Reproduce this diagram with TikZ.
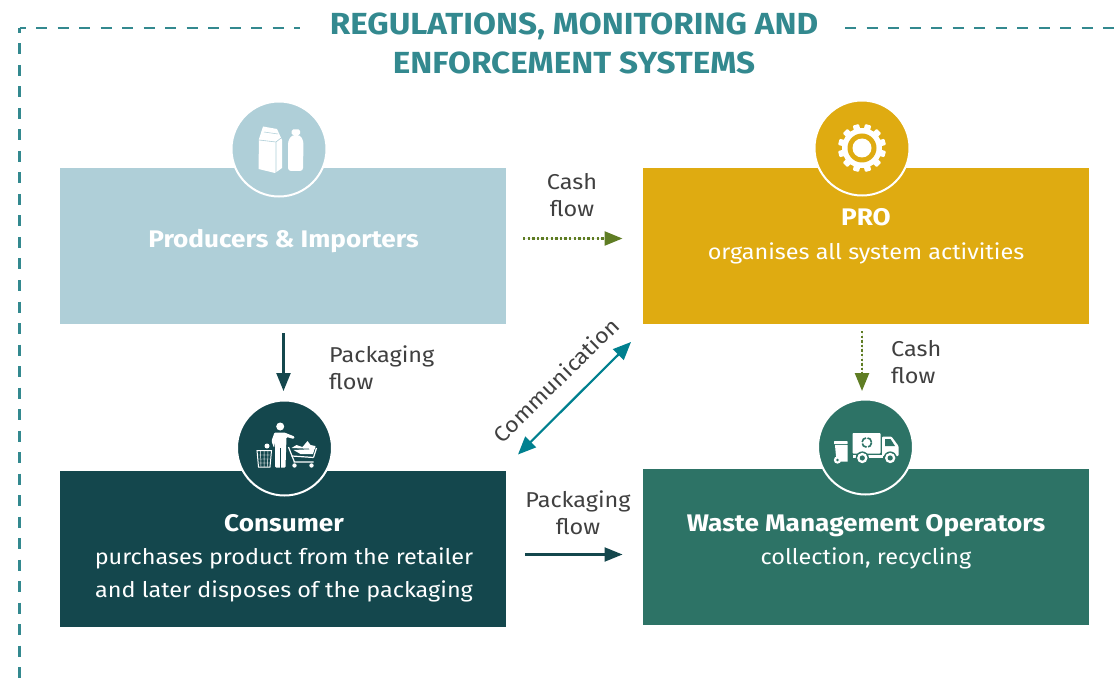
\documentclass[tikz,border=0pt]{standalone}
\usepackage{fontspec}
\setmainfont{Fira Sans}[FakeStretch=1.09]
\usetikzlibrary{arrows.meta}
\definecolor{framegreen}{HTML}{33898F}
\definecolor{prodblue}{HTML}{AFCFD8}
\definecolor{progold}{HTML}{DFAB11}
\definecolor{consdark}{HTML}{14474D}
\definecolor{wastegreen}{HTML}{2D7366}
\definecolor{cashgreen}{HTML}{5F7D24}
\definecolor{commteal}{HTML}{00808F}
\definecolor{labelgrey}{HTML}{404040}
\newcommand{\boxhead}[1]{{\fontsize{24}{33}\selectfont\bfseries #1}}
\tikzset{
  frameline/.style={framegreen,line width=2.7pt,dash pattern=on 11pt off 10.5pt},
  actorbox/.style={minimum width=446pt,minimum height=156pt,inner sep=0pt},
  boxtext/.style={inner sep=0pt,text=white,align=center,font=\fontsize{21.5}{33}\selectfont},
  iconback/.style={circle,minimum size=95pt,inner sep=0pt,draw=white,line width=2pt},
  flowlabel/.style={text=labelgrey,align=center,font=\fontsize{21.5}{27}\selectfont},
  flowtip/.style={-{Triangle[length=18pt,width=14pt]}},
  cashflow/.style={flowtip,draw=cashgreen,fill=cashgreen,line width=2.4pt,dash pattern=on 2.4pt off 2.2pt},
  packflow/.style={flowtip,draw=consdark,fill=consdark,line width=2.2pt}
}
\begin{document}
\begin{tikzpicture}[x=1pt,y=-1pt]
\useasboundingbox (0,0) rectangle (1114,679);

% frame
\coordinate (corner) at (19.5,28);
\draw[frameline,dash phase=5pt] (corner) -- (300,28);
\draw[frameline,dash phase=6pt] (corner) -- (19.5,679);
\draw[frameline] (845,28) -- (1114,28);
\node[text=framegreen,align=center,font=\fontsize{30.5}{39}\selectfont\bfseries] (title) at (574,43)
  {REGULATIONS, MONITORING AND\\ENFORCEMENT SYSTEMS};

% boxes
\node[actorbox,fill=prodblue] (producers) at (283,246) {};
\node[actorbox,fill=progold] (pro) at (866,246) {};
\node[actorbox,fill=consdark] (consumer) at (283,549) {};
\node[actorbox,fill=wastegreen] (waste) at (866,547) {};
\node[boxtext] (producerstext) at (283.5,241) {\boxhead{Producers \& Importers}};
\node[boxtext,font=\fontsize{21.5}{34}\selectfont] (protext) at (866,236.5) {\boxhead{PRO}\\organises all system activities};
\node[boxtext] (consumertext) at (284,558) {\boxhead{Consumer}\\purchases product from the retailer\\and later disposes of the packaging};
\node[boxtext] (wastetext) at (866,541.5) {\boxhead{Waste Management Operators}\\collection, recycling};

% icon circles
\node[iconback,fill=prodblue] (prodicon) at (279,149) {};
\node[iconback,fill=progold] (proicon) at (862,148) {};
\node[iconback,fill=consdark] (consicon) at (284.5,448) {};
\node[iconback,fill=wastegreen] (wasteicon) at (865.5,447) {};

% bottle and carton
\begin{scope}[shift={(prodicon.center)},white]
\fill (-20,-10) -- (-16,-22.5) -- (-2,-20) -- (3,-9) -- (3,19) -- (-4,24) -- (-20.5,20) -- cycle;
\fill[rounded corners=1.5pt] (12.5,-19.5) rectangle (21,-14);
\fill[rounded corners=3pt] (9,-8) -- (13,-14) -- (21,-14) -- (24.5,-8) -- (24,22) -- (9,22) -- cycle;
\draw[prodblue,line width=.6pt] (-20,-9) -- (-3,-7) -- (2,-11) (-3,-7) -- (-3,24);
\draw[prodblue,line width=.5pt] (-15,-17) -- (-1,-15);
\end{scope}

% gear
\begin{scope}[shift={(proicon.center)}]
\foreach \a in {15,45,...,345}
  \fill[white,rotate=\a,rounded corners=1pt] (-3.2,-24) rectangle (3.2,-17);
\fill[white] (0,0) circle (20);
\fill[progold] (0,0) circle (14.5);
\fill[white] (0,0) circle (9.5);
\end{scope}

% person with bin and trolley
\begin{scope}[shift={(consicon.center)},white]
\fill (-4.3,-21.5) circle (4);
\fill[rounded corners=1pt] (-13,-7) -- (-10,-15.5) -- (0,-15.5) -- (10,-11.5) -- (9.5,-9) -- (2,-11) -- (1,19.5) -- (-9.5,19.5) -- (-9.5,-6) -- (-10.5,0) -- cycle;
\draw[consdark,line width=.7pt] (-4.3,0) -- (-4.3,19.5);
\draw[line width=1pt] (-27.5,2.5) -- (-13,2.5) -- (-14.5,19) -- (-26,19) -- cycle;
\draw[line width=.45pt] (-24,2.5) -- (-23.5,19) (-20.3,2.5) -- (-20.3,19) (-16.5,2.5) -- (-17,19) (-27,7) -- (-14,7) (-26.5,11) -- (-14.5,11) (-26,15) -- (-14.5,15);
\fill (-17.5,-2) circle (2.5);
\draw[line width=1.2pt] (4,-1) -- (7.5,8) -- (29,9.5) (9,14) -- (29,14);
\draw[line width=1.2pt] (7.5,8) -- (10,14) (32,0) -- (29,9.5);
\fill (7,0) -- (12,-3) -- (18,-1) -- (23,-7) -- (26,-3) -- (31,-2) -- (30.5,1) -- cycle;
\fill (9,2) -- (30,1) -- (28.5,6) -- (16,6) -- cycle;
\fill (10,17.5) circle (2.2) (27,17.5) circle (2.2);
\end{scope}

% truck and bin
\begin{scope}[shift={(wasteicon.center)},white]
\fill[rounded corners=.6pt] (-31.5,-6) rectangle (-18,-2.8);
\fill (-30.5,-1.8) -- (-18,-1.8) -- (-18,14.5) -- (-29,14.5) -- cycle;
\fill (-28,13) circle (3.7);
\fill[wastegreen] (-28,13) circle (1.4);
\fill[rounded corners=.8pt] (-13,-14) rectangle (15,6.5);
\fill[rounded corners=1pt] (16.5,-10.5) -- (26,-10.5) -- (33,-1) -- (33,9) -- (16.5,9) -- cycle;
\fill[wastegreen] (19.5,-8) -- (25,-8) -- (29.5,-1) -- (19.5,-1) -- cycle;
\fill (-13,7.5) rectangle (17,11);
\draw[wastegreen,line width=1.6pt,dash pattern=on 6pt off 1.6pt] (1.3,-4.5) circle (4.8);
\foreach \cx in {-3.2,24.7}
{
  \fill[wastegreen] (\cx,11) circle (6.6);
  \fill (\cx,11) circle (5.2);
  \fill[wastegreen] (\cx,11) circle (2.6);
}
\end{scope}

% flows
\coordinate (cashastart) at (523,238.5);
\coordinate (cashaend) at (622.5,238.5);
\draw[cashflow] (cashastart) -- (cashaend);
\node[flowlabel] (cashalabel) at (572,195) {Cash\\flow};

\coordinate (cashbstart) at (862,331);
\coordinate (cashbend) at (862,391);
\draw[cashflow] (cashbstart) -- (cashbend);
\node[flowlabel,align=left,anchor=west,inner sep=0pt] (cashblabel) at (891,362) {Cash\\flow};

\coordinate (packastart) at (283.5,333);
\coordinate (packaend) at (283.5,391);
\draw[packflow] (packastart) -- (packaend);
\node[flowlabel,align=left,anchor=west,inner sep=0pt] (packalabel) at (329,368) {Packaging\\flow};

\coordinate (packbstart) at (525,554.5);
\coordinate (packbend) at (622.5,554.5);
\draw[packflow] (packbstart) -- (packbend);
\node[flowlabel] (packblabel) at (578,513) {Packaging\\flow};

\coordinate (commstart) at (518,454.5);
\coordinate (commend) at (631,342);
\draw[commteal,fill=commteal,line width=2.2pt,{Triangle[length=18pt,width=15pt]}-{Triangle[length=18pt,width=15pt]}] (commstart) -- (commend);
\node[flowlabel,rotate=44.5] (commlabel) at (556,380) {Communication};
\end{tikzpicture}
\end{document}
